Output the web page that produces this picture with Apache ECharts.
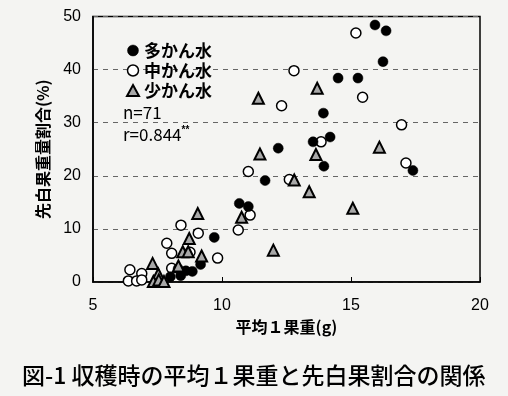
<!DOCTYPE html>
<html><head><meta charset="utf-8">
<script src="https://cdn.jsdelivr.net/npm/echarts@6/dist/echarts.min.js"></script>
<style>html,body{margin:0;padding:0;background:#f4f4f2;}#c{width:508px;height:396px;}</style>
</head><body><div id="c"></div>
<script>
// 多かん水 (filled)
const highX = [15.93,16.36,14.5,15.27,16.24,13.93,13.53,14.19,13.95,17.40,12.18,11.67,10.67,11.02,9.70,9.17,8.85,8.60,8.0,8.3,8.4];
const highY = [48.4,47.3,38.4,38.4,41.5,31.8,26.4,27.3,21.8,21.0,25.2,19.1,14.8,14.2,8.4,3.3,2.0,2.1,1.0,2.5,1.2];
// 中かん水 (open)
const midX = [15.19,12.79,12.31,15.45,16.96,13.84,17.13,11.02,12.61,11.09,10.63,8.41,9.08,9.83,7.86,8.05,8.05,6.43,6.89,6.37,6.69,6.89,8.76];
const midY = [46.9,39.8,33.2,34.8,29.6,26.4,22.4,20.8,19.3,12.6,9.8,10.7,9.2,4.5,7.3,5.4,2.6,2.3,1.6,0.2,0.2,0.4,5.6];
// 少かん水 (triangle)
const lowX = [13.69,11.41,11.47,13.64,12.80,13.38,16.10,15.07,10.76,11.99,9.06,8.73,8.48,8.69,9.21,8.31,7.31,7.53,7.34,7.55,7.75];
const lowY = [36.5,34.6,24.1,24.0,19.2,17.0,25.4,13.9,12.2,6.0,12.9,8.2,5.7,5.7,4.9,3.0,3.5,1.5,0.1,0.4,0.1];
const xTicks = [5,10,15,20];
const yTicks = [0,10,20,30,40,50];
const seriesNames = ['多かん水','中かん水','少かん水'];

const zip = (a,b) => a.map((v,i)=>[v,b[i]]);
const FONT = '"Liberation Sans","Noto Sans CJK JP",sans-serif';
const JP = '"Noto Sans CJK JP",sans-serif';
const styles = [
  {color: '#000', borderColor: '#000', borderWidth: 0.5, opacity: 1},
  {color: '#fff', borderColor: '#000', borderWidth: 1.5, opacity: 1},
  {color: '#a8a8a8', borderColor: '#000', borderWidth: 2, opacity: 1}
];
const chart = echarts.init(document.getElementById('c'));
chart.setOption({
  backgroundColor: '#f4f4f2',
  animation: false,
  grid: {left: 93, right: 28, top: 16.5, bottom: 114, show: true, borderColor: '#000', borderWidth: 1.5, backgroundColor: 'transparent'},
  xAxis: {
    type: 'value', min: xTicks[0], max: xTicks[xTicks.length-1], interval: 5,
    name: '平均１果重(g)', nameLocation: 'middle', nameGap: 36,
    nameTextStyle: {fontFamily: JP, fontSize: 16, fontWeight: 'bold', color: '#000'},
    axisLine: {lineStyle: {color: '#000', width: 1.5}},
    axisTick: {inside: true, length: 5, lineStyle: {color: '#000'}},
    axisLabel: {fontFamily: FONT, fontSize: 16, color: '#000', margin: 16},
    splitLine: {show: false}
  },
  yAxis: {
    type: 'value', min: yTicks[0], max: yTicks[yTicks.length-1], interval: 10,
    name: '先白果重量割合(%)', nameLocation: 'middle', nameGap: 42, nameRotate: 90,
    nameTextStyle: {fontFamily: JP, fontSize: 16, fontWeight: 'bold', color: '#000'},
    axisLine: {show: true, lineStyle: {color: '#000', width: 1.5}},
    axisTick: {show: false},
    axisLabel: {fontFamily: FONT, fontSize: 16, color: '#000', margin: 12},
    splitLine: {show: true, lineStyle: {color: '#666', type: [5,5], width: 1}}
  },
  legend: {
    orient: 'vertical', left: 121, top: 37, itemGap: 3, itemWidth: 12, itemHeight: 11,
    textStyle: {fontFamily: JP, fontSize: 17, fontWeight: 'bold', color: '#000'},
    data: [
      {name: seriesNames[0], icon: 'circle', itemStyle: styles[0]},
      {name: seriesNames[1], icon: 'circle', itemStyle: styles[1]},
      {name: seriesNames[2], icon: 'triangle', itemStyle: styles[2]}
    ]
  },
  graphic: [
    {type: 'text', left: 123, top: 104, style: {text: 'n=71', font: '17px "Noto Sans CJK JP"', fill: '#000'}},
    {type: 'text', left: 123, top: 125, style: {text: 'r=0.844{s|**}', font: '17px "Noto Sans CJK JP"', fill: '#000', rich: {s: {fontSize: 10, verticalAlign: 'top', fontFamily: 'Liberation Sans', fontWeight: 'bold', padding: [0,0,9,0]}}}},
    {type: 'text', left: 22, top: 364, style: {text: '図-1 収穫時の平均１果重と先白果割合の関係', font: '500 23px "Noto Sans CJK JP"', fill: '#000'}}
  ],
  series: [
    {name: seriesNames[0], type: 'scatter', data: zip(highX, highY), symbol: 'circle', symbolSize: 10, itemStyle: styles[0], z: 3},
    {name: seriesNames[1], type: 'scatter', data: zip(midX, midY), symbol: 'circle', symbolSize: 10, itemStyle: styles[1], z: 2},
    {name: seriesNames[2], type: 'scatter', data: zip(lowX, lowY), symbol: 'triangle', symbolSize: 11, itemStyle: styles[2], z: 4}
  ]
});
</script></body></html>
